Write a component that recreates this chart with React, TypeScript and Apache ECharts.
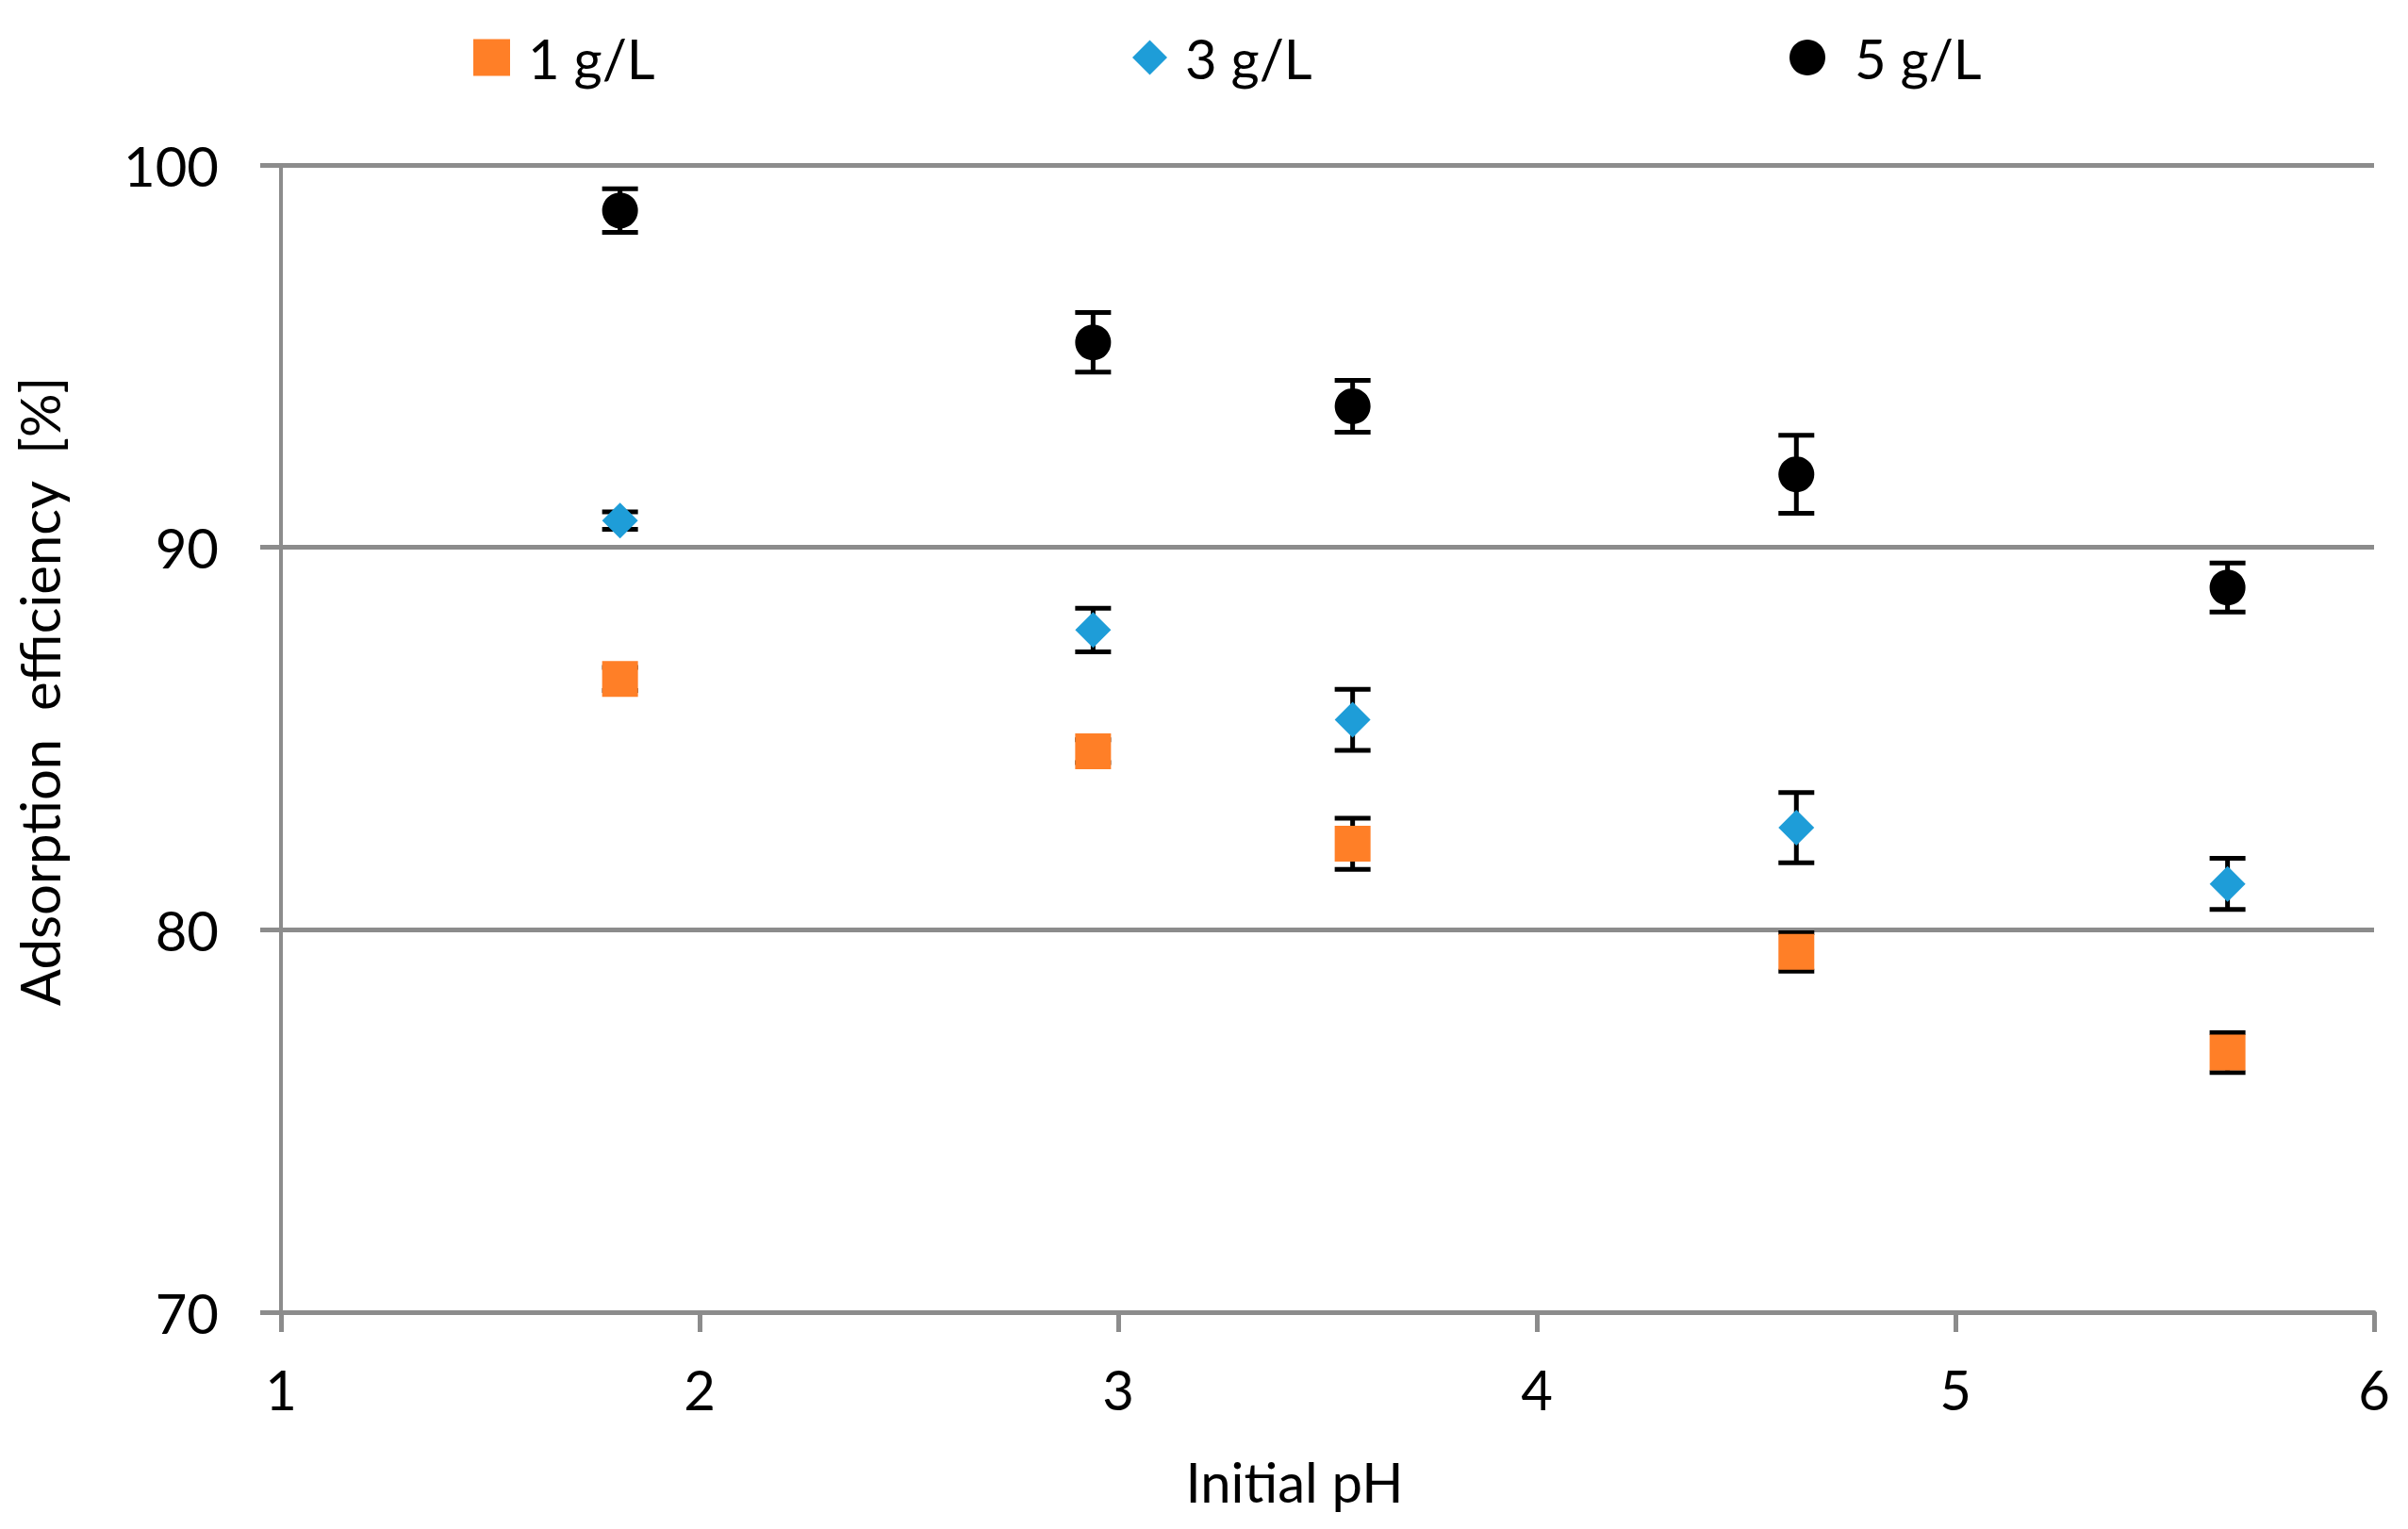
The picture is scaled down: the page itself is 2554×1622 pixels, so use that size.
import React, { useEffect, useRef } from "react";
import * as echarts from "echarts";

const pH = [1.81, 2.94, 3.56, 4.62, 5.65];
const eff1 = [86.56, 84.67, 82.25, 79.42, 76.79];
const err1 = [0.3, 0.3, 0.67, 0.5, 0.52];
const eff3 = [90.7, 87.84, 85.49, 82.67, 81.2];
const err3 = [0.23, 0.57, 0.8, 0.92, 0.67];
const eff5 = [98.81, 95.36, 93.69, 91.91, 88.95];
const err5 = [0.57, 0.78, 0.68, 1.02, 0.64];
const seriesNames = ["1 g/L", "3 g/L", "5 g/L"];
const xTicks = { min: 1, max: 6, interval: 1 };
const yTicks = { min: 70, max: 100, interval: 10 };

const FONT = "Lato, 'Open Sans', sans-serif";
const GRID = "#8c8c8c";
const ORANGE = "#ff7f27";
const BLUE = "#1e9dd8";
const BLACK = "#000000";

function errData(vals: number[], errs: number[]) {
  return pH.map((x, i) => [x, vals[i] - errs[i], vals[i] + errs[i]]);
}

function pts(vals: number[]) {
  return pH.map((x, i) => [x, vals[i]]);
}

const errRender = (params: any, api: any) => {
  const x = api.value(0);
  const lo = api.coord([x, api.value(1)]);
  const hi = api.coord([x, api.value(2)]);
  const hw = 19;
  const style = { stroke: "#000", lineWidth: 5 };
  return {
    type: "group",
    children: [
      { type: "line", shape: { x1: lo[0], y1: lo[1], x2: hi[0], y2: hi[1] }, style },
      { type: "line", shape: { x1: hi[0] - hw, y1: hi[1], x2: hi[0] + hw, y2: hi[1] }, style },
      { type: "line", shape: { x1: lo[0] - hw, y1: lo[1], x2: lo[0] + hw, y2: lo[1] }, style },
    ],
  };
};

function legendAt(name: string, left: number, icon: string, size: number, gap: number) {
  return {
    data: [name],
    left,
    top: 32,
    icon,
    itemWidth: size,
    itemHeight: size,
    selectedMode: false,
    padding: 0,
    textStyle: {
      fontFamily: FONT,
      fontSize: 58,
      color: "#000",
      lineHeight: 40,
      padding: [0, 0, 12, gap],
    },
  };
}

export default function App() {
  const ref = useRef<HTMLDivElement>(null);
  useEffect(() => {
    if (!ref.current) return;
    const chart = echarts.init(ref.current, undefined, { renderer: "svg" });
    chart.setOption({
      animation: false,
      backgroundColor: "#ffffff",
      legend: [
        legendAt(seriesNames[0], 502, "rect", 39, 14),
        legendAt(seriesNames[1], 1201, "diamond", 37, 14),
        legendAt(seriesNames[2], 1898, "circle", 38, 26),
      ],
      grid: { left: 298, right: 36, top: 175, bottom: 230, containLabel: false },
      xAxis: {
        type: "value",
        min: xTicks.min,
        max: xTicks.max,
        interval: xTicks.interval,
        name: "Initial pH",
        nameLocation: "middle",
        nameGap: 150,
        nameTextStyle: { fontFamily: FONT, fontSize: 58, color: "#000", padding: [0, 70, 0, 0] },
        axisLine: { show: true, lineStyle: { color: GRID, width: 5 } },
        axisTick: { show: true, length: 21, lineStyle: { color: GRID, width: 5 } },
        axisLabel: { fontFamily: FONT, fontSize: 58, color: "#000", margin: 52 },
        splitLine: { show: false },
      },
      yAxis: {
        type: "value",
        min: yTicks.min,
        max: yTicks.max,
        interval: yTicks.interval,
        name: "Adsorption  efficiency  [%]",
        nameLocation: "middle",
        nameRotate: 90,
        nameGap: 228,
        nameTextStyle: { fontFamily: FONT, fontSize: 58, color: "#000", padding: [0, 0, 0, 100] },
        axisLine: { show: true, lineStyle: { color: GRID, width: 4 } },
        axisTick: { show: true, length: 22, lineStyle: { color: GRID, width: 5 } },
        axisLabel: { fontFamily: FONT, fontSize: 58, color: "#000", margin: 66 },
        splitLine: { show: true, lineStyle: { color: GRID, width: 5 } },
      },
      series: [
        { type: "custom", name: "err1", renderItem: errRender, data: errData(eff1, err1), z: 2 },
        { type: "custom", name: "err3", renderItem: errRender, data: errData(eff3, err3), z: 2 },
        { type: "custom", name: "err5", renderItem: errRender, data: errData(eff5, err5), z: 2 },
        {
          type: "scatter",
          name: seriesNames[0],
          symbol: "rect",
          symbolSize: 38,
          itemStyle: { color: ORANGE, opacity: 1 },
          data: pts(eff1),
          z: 3,
        },
        {
          type: "scatter",
          name: seriesNames[1],
          symbol: "diamond",
          symbolSize: 38,
          itemStyle: { color: BLUE, opacity: 1 },
          data: pts(eff3),
          z: 3,
        },
        {
          type: "scatter",
          name: seriesNames[2],
          symbol: "circle",
          symbolSize: 38,
          itemStyle: { color: BLACK, opacity: 1 },
          data: pts(eff5),
          z: 3,
        },
      ],
    });
    return () => chart.dispose();
  }, []);
  return (
    <div
      ref={ref}
      style={{ position: "absolute", left: 0, top: 0, width: 2554, height: 1622, background: "#fff" }}
    />
  );
}
